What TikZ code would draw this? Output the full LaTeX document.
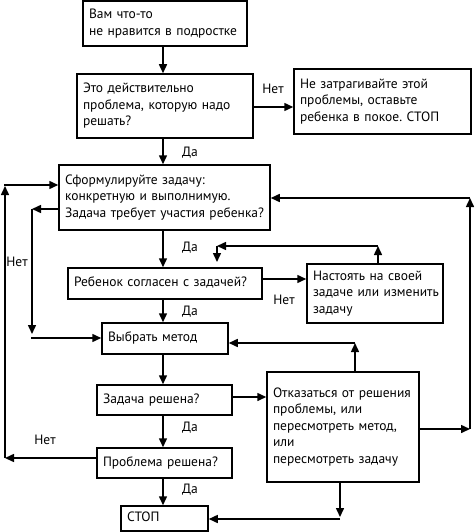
\documentclass[tikz,border=0pt]{standalone}
\usepackage{fontspec}
\setmainfont{PT Sans}
\frenchspacing
\usetikzlibrary{arrows.meta,calc}
\begin{document}
\begin{tikzpicture}[x=1pt,y=-1pt,
  box/.style={draw,line width=1.5pt,inner xsep=6pt,inner ysep=0pt,align=left,
    font=\fontsize{13.5}{16.6}\selectfont},
  arr/.style={line width=1.5pt,-{Triangle[length=9pt,width=8pt]}},
  lbl/.style={font=\fontsize{13.5}{16}\selectfont}]
\useasboundingbox (0,0) rectangle (474,532);
\newcommand{\bx}[7]{% name, left, top, right, bottom, text
  \node[box,minimum width=#4-#2,minimum height=#5-#3,text width=#4-#2-12pt] (#1) at ({(#2+#4)/2},{(#3+#5)/2}) {\begin{tabular}{@{}l@{}}#6\end{tabular}};}
\bx{b1}{83}{1}{247}{46}{Вам что-то\\не нравится в подростке}{}
\bx{b2}{77}{74}{253}{138}{Это действительно\\проблема, которую надо\\решать?}{}
\bx{b3}{294}{69}{471}{134}{Не затрагивайте этой\\проблемы, оставьте\\ребенка в покое. СТОП}{}
\bx{b4}{59}{165}{270}{230}{Сформулируйте задачу:\\конкретную и выполнимую.\\Задача требует участия ребенка?}{}
\bx{b5}{68}{268}{262}{299}{Ребенок согласен с задачей?}{}
\bx{b6}{307}{264}{443}{323}{Настоять на своей\\задаче или изменить\\задачу}{}
\bx{b7}{102}{323}{228}{354}{Выбрать метод}{}
\bx{b8}{97}{385}{232}{415}{Задача решена?}{}
\bx{b9}{267}{372}{419}{482}{Отказаться от решения\\проблемы, или\\пересмотреть метод,\\или\\пересмотреть задачу}{}
\bx{b10}{97}{448}{232}{478}{Проблема решена?}{}
\bx{b11}{121}{506}{208}{531}{СТОП}{}
% labels
\node[lbl] (l1) at (273,89) {Нет};
\node[lbl] (l2) at (190,153) {Да};
\node[lbl] (l3) at (190,248) {Да};
\node[lbl] (l4) at (284,300) {Нет};
\node[lbl] (l5) at (190,312) {Да};
\node[lbl] (l6) at (17,262) {Нет};
\node[lbl] (l7) at (190,428) {Да};
\node[lbl] (l8) at (45,440) {Нет};
\node[lbl] (l9) at (190,490) {Да};
% coordinates
\coordinate (c2) at (0,107);
\coordinate (c5) at (0,279);
\coordinate (c8) at (0,397);
\coordinate (L1) at (5,458);
\coordinate (L2) at (5,186);
\coordinate (L3) at (4.3,185);
\coordinate (N1) at (32,209);
\coordinate (N2) at (32,334);
\coordinate (N3) at (31.3,338);
\coordinate (F1) at (378,246);
\coordinate (F2) at (217,246);
\coordinate (F3) at (217,262);
\coordinate (M1) at (355,343);
\coordinate (R1) at (470,429);
\coordinate (R2) at (470,198);
\coordinate (S1) at (340,517);
\coordinate (S2) at (340,519);
% connectors
\draw[arr] (b1.south -| 163,0) -- (b2.north -| 163,0);
\draw[arr] (b2.east |- c2) -- (b3.west |- c2);
\draw[arr] (b2.south -| 163,0) -- (b4.north -| 163,0);
\draw[arr] (b4.south -| 163,0) -- (b5.north -| 163,0);
\draw[arr] (b5.east |- c5) -- (b6.west |- c5);
\draw[arr] (b5.south -| 163,0) -- (b7.north -| 163,0);
\draw[arr] (b7.south -| 163,0) -- (b8.north -| 163,0);
\draw[arr] (b8.east |- c8) -- (b9.west |- c8);
\draw[arr] (b8.south -| 163,0) -- (b10.north -| 163,0);
\draw[arr] (b10.south -| 163,0) -- (b11.north -| 163,0);
% left outer loop
\draw[arr] (b10.west |- L1) -- (L1);
\draw[arr] (L1) -- (L2);
\draw[arr] (L3) -- (b4.west |- L3);
% left inner loop
\draw[arr] (b4.west |- N1) -- (N1);
\draw[arr] (N1) -- (N2);
\draw[arr] (N3) -- (b7.west |- N3);
% b6 feedback
\draw[arr] (b6.north -| F1) -- (F1);
\draw[arr] (F1) -- (F2);
\draw[arr] (F2) -- (F3);
% b9 to b7
\draw[arr] (b9.north -| M1) -- (M1);
\draw[arr] (M1) -- (b7.east |- M1);
% b9 right loop
\draw[arr] (b9.east |- R1) -- (R1);
\draw[arr] (R1) -- (R2);
\draw[arr] (R2) -- (b4.east |- R2);
% b9 to stop
\draw[arr] (b9.south -| S1) -- (S1);
\draw[arr] (S2) -- (b11.east |- S2);
\end{tikzpicture}
\end{document}
